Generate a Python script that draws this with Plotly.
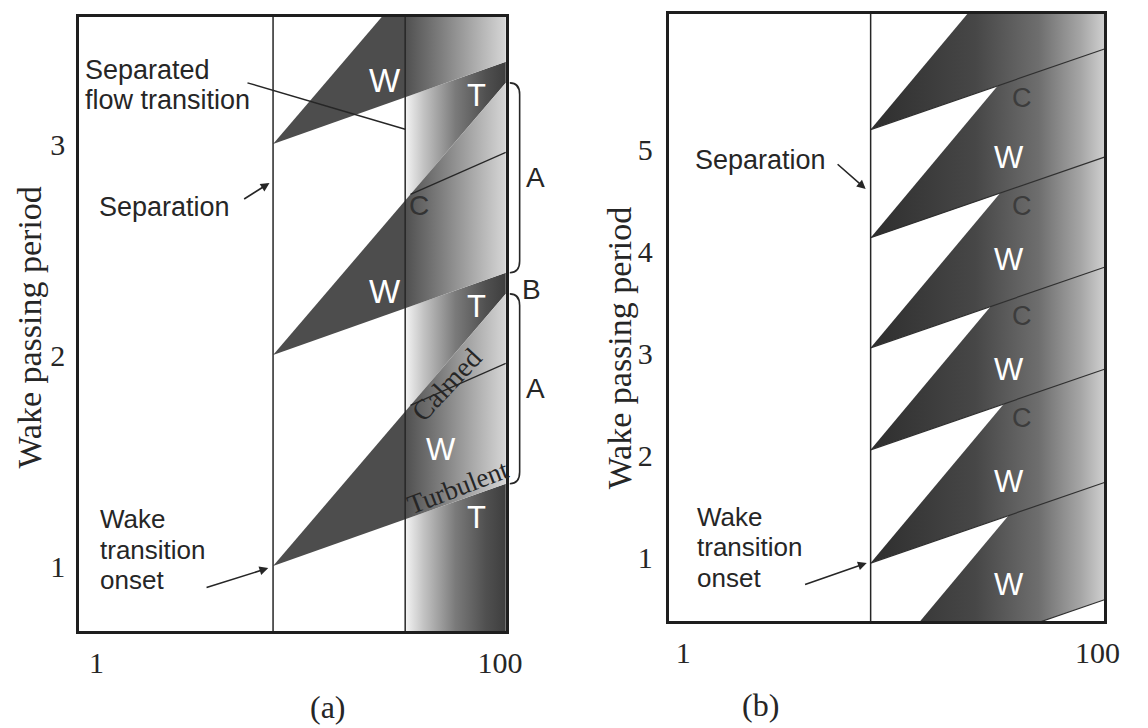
import numpy as np
import plotly.graph_objects as go

W, H = 1148, 728
L = np.log10

# ---------------- data ----------------
x_ticks = [1, 100]
x_ticklabels = ["1", "100"]

# panel (a)
a_onsets = [1.0, 2.0, 3.0]          # wake-induced transition onsets (wake passing period)
a_sep_x = 7.5                        # separation / onset position
a_trans_x = 33.9                     # separated-flow transition position
a_start_x, a_end_x = 0.817, 107.0    # x extent of frame
a_yrange = [0.692, 3.602]
a_yticks = [1, 2, 3]
a_lead_rise = 0.39                   # rise of leading (shallow) boundary at right end
a_trail_rise = 1.29                  # rise of trailing (steep) boundary at right end
a_calm_x = 36.0                      # start of calmed-region line on trailing boundary
a_calm_end_rise = 0.96               # its rise at the right end

# panel (b)
b_onsets = [-0.20, 0.95, 2.06, 3.06, 4.14, 5.20]
b_sep_x = 8.03
b_start_x, b_end_x = 0.849, 108.0
b_yrange = [0.382, 6.333]
b_yticks = [1, 2, 3, 4, 5]
b_lead_rise = 0.79
b_trail_rise = 2.74

# colours
wedge_dark = "#4d4d4d"
T_scale = [[0, "#f4f4f4"], [0.18, "#c4c4c4"], [0.5, "#7a7a7a"], [0.8, "#505050"], [1, "#3e3e3e"]]
Wz_scale = [[0, "#505050"], [0.35, "#7d7d7d"], [0.75, "#b4b4b4"], [1, "#d6d6d6"]]
B_scale = [[0, "#2e2e2e"], [0.45, "#474747"], [0.72, "#6e6e6e"], [0.9, "#a6a6a6"], [1, "#cfcfcf"]]
ink = "#262626"


def yline(onset, rise, x, x0, x1):
    return onset + rise * (L(x) - L(x0)) / (L(x1) - L(x0))


fig = go.Figure()


def poly(xs, ys, xa, ya, color=None, scale=None):
    kw = dict(x=xs + [xs[0]], y=ys + [ys[0]], mode="lines", fill="toself",
              line=dict(width=0, color="rgba(0,0,0,0)"), hoverinfo="skip",
              xaxis=xa, yaxis=ya, showlegend=False)
    if scale is not None:
        kw["fillgradient"] = dict(type="horizontal", colorscale=scale)
    else:
        kw["fillcolor"] = color
    fig.add_trace(go.Scatter(**kw))


def seg(xs, ys, xa, ya, color=ink, width=1.4):
    fig.add_trace(go.Scatter(x=xs, y=ys, mode="lines", line=dict(color=color, width=width),
                             hoverinfo="skip", xaxis=xa, yaxis=ya, showlegend=False))


# ---------------- panel (a) ----------------
ya = lambda o, r, x: yline(o, r, x, a_sep_x, a_end_x)
xt, xe = a_trans_x, a_end_x
# turbulent (T) regions right of transition line
for i, o in enumerate(a_onsets):
    if i == 0:
        lo_t, lo_e = a_yrange[0] - 0.3, a_yrange[0] - 0.3
    else:
        p = a_onsets[i - 1]
        lo_t, lo_e = ya(p, a_trail_rise, xt), ya(p, a_trail_rise, xe)
    poly([xt, xe, xe, xt], [lo_t, lo_e, ya(o, a_lead_rise, xe), ya(o, a_lead_rise, xt)],
         "x", "y", scale=T_scale)
# wake zones right of transition line
for o in a_onsets:
    poly([xt, xe, xe, xt],
         [ya(o, a_lead_rise, xt), ya(o, a_lead_rise, xe), ya(o, a_trail_rise, xe), ya(o, a_trail_rise, xt)],
         "x", "y", scale=Wz_scale)
# dark wedges between separation and transition
for o in a_onsets:
    poly([a_sep_x, xt, xt], [o, ya(o, a_lead_rise, xt), ya(o, a_trail_rise, xt)], "x", "y", color=wedge_dark)
# calmed-region lines
for o in a_onsets:
    seg([a_calm_x, xe], [ya(o, a_trail_rise, a_calm_x), o + a_calm_end_rise], "x", "y", width=1.3)
# vertical lines
seg([a_sep_x, a_sep_x], a_yrange, "x", "y", width=1.5)
seg([a_trans_x, a_trans_x], a_yrange, "x", "y", width=1.5)
# separated-flow-transition pointer
seg([5.6, a_trans_x], [3.29, 3.07], "x", "y", width=1.4)

# ---------------- panel (b) ----------------
yb = lambda o, r, x: yline(o, r, x, b_sep_x, b_end_x)
for o in b_onsets:
    poly([b_sep_x, b_end_x, b_end_x], [o, yb(o, b_lead_rise, b_end_x), yb(o, b_trail_rise, b_end_x)],
         "x2", "y2", scale=B_scale)
for o in b_onsets:
    seg([b_sep_x, b_end_x], [o, o + b_lead_rise], "x2", "y2", color="#303030", width=1.2)
seg([b_sep_x, b_sep_x], b_yrange, "x2", "y2", width=1.5)

# ---------------- axes ----------------
axis_common = dict(showgrid=False, zeroline=False, showline=True, mirror=True, linecolor="#1e1e1e",
                   linewidth=2.5, ticks="", tickfont=dict(family="Liberation Serif", size=30, color=ink))
fig.update_layout(
    width=W, height=H, margin=dict(l=0, r=0, t=0, b=0), paper_bgcolor="white", plot_bgcolor="white",
    showlegend=False, hovermode=False,
    xaxis=dict(domain=[80 / W, 513 / W], anchor="y", type="log", range=[L(a_start_x), L(a_end_x)],
               tickvals=x_ticks, ticktext=x_ticklabels, ticklabelstandoff=3, **axis_common),
    yaxis=dict(domain=[1 - 631 / H, 1 - 17 / H], anchor="x", range=a_yrange, tickvals=a_yticks,
               ticktext=[str(v) for v in a_yticks], ticklabelstandoff=5, **axis_common),
    xaxis2=dict(domain=[678 / W, 1120 / W], anchor="y2", type="log", range=[L(b_start_x), L(b_end_x)],
                tickvals=x_ticks, ticktext=x_ticklabels, ticklabelstandoff=3, **axis_common),
    yaxis2=dict(domain=[1 - 621 / H, 1 - 14 / H], anchor="x2", range=b_yrange, tickvals=b_yticks,
                ticktext=[str(v) for v in b_yticks], ticklabelstandoff=7, **axis_common),
)

ann = []


def txt(text, x, y, xr, yr, size=27, color=ink, family="Liberation Sans", xanchor="center", angle=0):
    ann.append(dict(text=text, x=L(x) if xr.startswith("x") else x, y=y, xref=xr, yref=yr,
                    showarrow=False, xanchor=xanchor, yanchor="middle", textangle=angle,
                    font=dict(size=size, color=color, family=family)))


def arrow(x0, y0, x1, y1, xr, yr):
    ann.append(dict(text="", x=L(x1), y=y1, ax=L(x0), ay=y0, xref=xr, yref=yr, axref=xr, ayref=yr,
                    showarrow=True, arrowhead=2, arrowsize=1.1, arrowwidth=1.6, arrowcolor=ink))


# panel (a) texts
txt("Separated", 0.855, 3.351, "x", "y", xanchor="left")
txt("flow transition", 0.855, 3.209, "x", "y", xanchor="left")
txt("Separation", 1.0, 2.701, "x", "y", xanchor="left")
arrow(5.3, 2.735, 7.2, 2.815, "x", "y")
txt("Wake", 1.02, 1.222, "x", "y", xanchor="left", size=26)
txt("transition", 1.02, 1.078, "x", "y", xanchor="left", size=26)
txt("onset", 1.02, 0.934, "x", "y", xanchor="left", size=26)
arrow(3.45, 0.896, 7.1, 0.99, "x", "y")
for o in a_onsets[1:]:
    txt("W", 26.8, o + 0.30, "x", "y", size=33, color="white")
for o in a_onsets:
    txt("T", 76.3, o + 0.23, "x", "y", size=31, color="white")
txt("W", 50.9, 1.55, "x", "y", size=31, color="white")
txt("C", 39.7, 2.711, "x", "y", size=28, color="#333333")
txt("Calmed", 54.5, 1.86, "x", "y", size=28, family="Liberation Serif", angle=-47)
txt("Turbulent", 62.3, 1.374, "x", "y", size=27, family="Liberation Serif", angle=-21)

# brackets A/B at right of panel (a)
xb0, xb1 = 517 / W, 527 / W
d = 0.055
for o in a_onsets[:2]:
    top = o + a_trail_rise
    bot = o + a_lead_rise
    fig.add_shape(type="path", xref="paper", yref="y",
                  path=f"M {xb0},{top} Q {xb1},{top} {xb1},{top - d} L {xb1},{bot + d} Q {xb1},{bot} {xb0},{bot}",
                  line=dict(color=ink, width=1.6))
    txt("A", 543 / W, (top + bot) / 2, "paper", "y", size=28)
txt("B", 539 / W, (a_onsets[0] + a_trail_rise + a_onsets[1] + a_lead_rise) / 2 - 0.03, "paper", "y", size=28)

# panel (b) texts
txt("Separation", 1.116, 4.902, "x2", "y2", xanchor="left")
arrow(5.47, 4.873, 7.6, 4.618, "x2", "y2")
txt("Wake", 1.14, 1.402, "x2", "y2", xanchor="left", size=26)
txt("transition", 1.14, 1.108, "x2", "y2", xanchor="left", size=26)
txt("onset", 1.14, 0.804, "x2", "y2", xanchor="left", size=26)
arrow(3.81, 0.735, 7.69, 0.951, "x2", "y2")
for o, wy in zip(b_onsets[:5], [0.735, 1.745, 2.843, 3.922, 4.93]):
    txt("W", 37.5, wy, "x2", "y2", size=31, color="white")
for o in b_onsets[2:]:
    txt("C", 43.0, o + 0.31, "x2", "y2", size=27, color="#3c3c3c")

# axis titles and panel captions
ann.append(dict(text="Wake passing period", x=30 / W, y=1 - 328 / H, xref="paper", yref="paper",
                xanchor="center", yanchor="middle",
                showarrow=False, textangle=-90, font=dict(family="Liberation Serif", size=34, color=ink)))
ann.append(dict(text="Wake passing period", x=628 / W, y=1 - 348 / H, xref="paper", yref="paper",
                xanchor="center", yanchor="middle",
                showarrow=False, textangle=-90, font=dict(family="Liberation Serif", size=34, color=ink)))
ann.append(dict(text="(a)", x=333 / W, y=1 - 707 / H, xref="paper", yref="paper", showarrow=False,
                xanchor="center", yanchor="middle",
                font=dict(family="Liberation Serif", size=32, color=ink)))
ann.append(dict(text="(b)", x=771 / W, y=1 - 705 / H, xref="paper", yref="paper", showarrow=False,
                xanchor="center", yanchor="middle",
                font=dict(family="Liberation Serif", size=32, color=ink)))

fig.update_layout(annotations=ann)
fig.write_html("out.html")
